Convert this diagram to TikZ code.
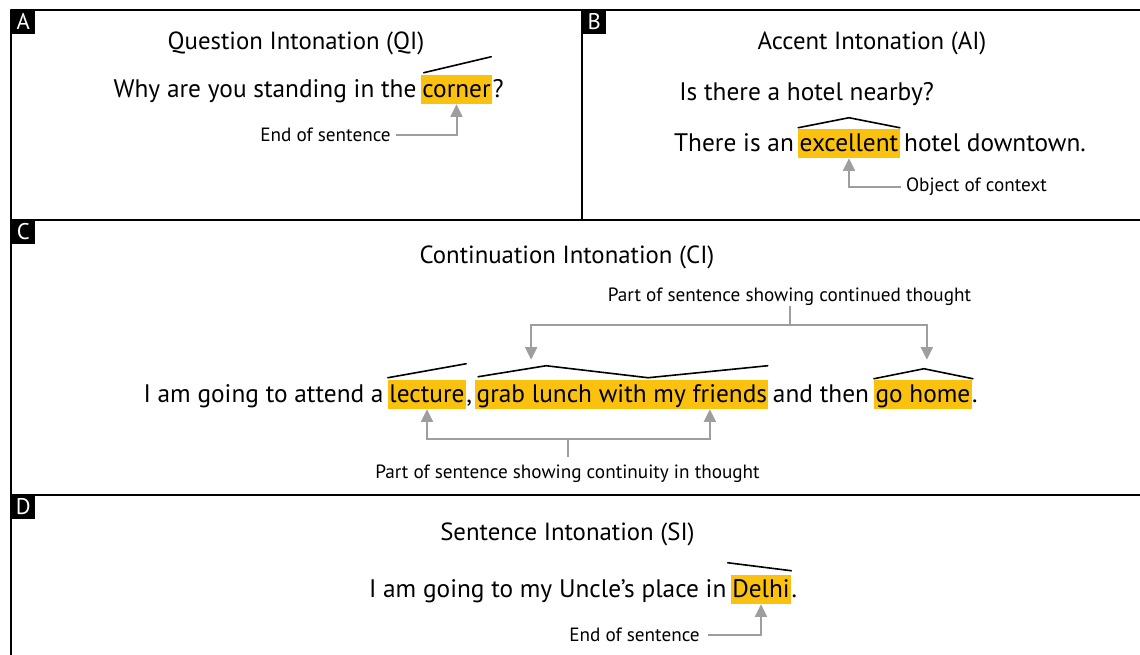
\documentclass[tikz,border=0pt]{standalone}
\usepackage{fontspec}
\setmainfont{PT Sans}
\usetikzlibrary{calc,arrows.meta,positioning}
\definecolor{hlgold}{RGB}{250,194,14}
\definecolor{ptrgray}{RGB}{158,158,160}

\begin{document}
\begin{tikzpicture}[x=0.75pt,y=-0.75pt,>=Stealth,line join=round,line cap=round,
    frame/.style={line width=1.5pt,line cap=rect},
    tag/.style={fill=black,text=white,inner sep=0pt,minimum width=18pt,minimum height=17.5pt,
      anchor=north west,font=\fontsize{17}{17}\selectfont},
    ttl/.style={font=\fontsize{18.6}{21}\selectfont,anchor=base,inner sep=0pt},
    sent/.style={font=\fontsize{19}{22}\selectfont,inner sep=0pt},
    hl/.style={sent,fill=hlgold,inner xsep=1pt,text height=16.5pt,text depth=5.25pt,anchor=base},
    note/.style={font=\fontsize{14.4}{16}\selectfont,inner sep=0pt},
    tone/.style={line width=1.2pt},
    gline/.style={ptrgray,line width=1.5pt,line cap=butt},
    ptr/.style={gline,line join=miter,-{Triangle[length=9.5pt,width=9pt]}}]
  \useasboundingbox (0,0) rectangle (1140,654);

  % panels
  \draw[frame] (11,654) -- (11,10) -- (1140,10);
  \draw[frame] (582,10) -- (582,220);
  \draw[frame] (11,220) -- (1140,220);
  \draw[frame] (11,495) -- (1140,495);
  \node[tag] (tagA) at (11,10) {A};
  \node[tag] (tagB) at (582,10) {B};
  \node[tag] (tagC) at (11,220) {C};
  \node[tag] (tagD) at (11,495) {D};

  % A
  \node[ttl] (ttlA) at (296,49) {Question Intonation (QI)};
  \node[hl] (corner) at (456.5,97) {corner};
  \node[sent,anchor=base east] (qL) at ([xshift=-3pt]corner.base west) {Why are you standing in the};
  \node[sent,anchor=base west] (qR) at (corner.base east) {?};
  \draw[tone] ([shift={(3,-2)}]corner.north west) -- ([shift={(-1,-18)}]corner.north east);
  \node[note] (endA) at (325.5,135) {End of sentence};
  \draw[ptr] ([xshift=4pt]endA.east) -| (corner.south);

  % B
  \node[ttl] (ttlB) at (872,49) {Accent Intonation (AI)};
  \node[sent,anchor=base west] (ask) at (679,100) {Is there a hotel nearby?};
  \node[hl] (excellent) at (849,151) {excellent};
  \node[sent,anchor=base east] (aL) at ([xshift=-3pt]excellent.base west) {There is an};
  \node[sent,anchor=base west] (aR) at ([xshift=3pt]excellent.base east) {hotel downtown.};
  \draw[tone] ([shift={(0,-1)}]excellent.north west) -- ([shift={(0,-11)}]excellent.north)
    -- ([shift={(0,-1)}]excellent.north east);
  \node[note] (objB) at (976.5,187) {Object of context};
  \draw[ptr] ([xshift=-4pt]objB.west) -| (excellent.south);

  % C
  \node[ttl] (ttlC) at (567,263) {Continuation Intonation (CI)};
  \node[hl] (lecture) at (427,402) {lecture};
  \node[sent,anchor=base east] (cL) at ([xshift=-3pt]lecture.base west) {I am going to attend a};
  \node[sent,anchor=base west] (comma) at (lecture.base east) {,};
  \node[hl,anchor=base west] (grab) at ([xshift=2pt]comma.base east) {grab lunch with my friends};
  \node[sent,anchor=base west] (andthen) at ([xshift=3pt]grab.base east) {and then};
  \node[hl,anchor=base west] (home) at ([xshift=3.5pt]andthen.base east) {go home};
  \node[sent,anchor=base west] (stop) at (home.base east) {.};
  \draw[tone] ([shift={(0,-2)}]lecture.north west) -- ([shift={(0,-16)}]lecture.north east);
  \draw[tone] ([shift={(3,-3)}]grab.north west) -- ([shift={(71,-14)}]grab.north west)
    -- ([shift={(173,-2)}]grab.north west) -- ([shift={(-1,-14)}]grab.north east);
  \draw[tone] ([shift={(0,-1)}]home.north west) -- ([shift={(1,-11)}]home.north)
    -- ([shift={(1,-1)}]home.north east);
  \node[note] (contU) at (789.5,297) {Part of sentence showing continued thought};
  \coordinate (jU) at (789.5,325);
  \draw[gline] (contU.south) -- (jU);
  \draw[ptr] (jU) -| ([shift={(56,-20)}]grab.north west);
  \draw[ptr] (jU) -| ([shift={(4,-20)}]home.north);
  \node[note] (contL) at (567.5,474) {Part of sentence showing continuity in thought};
  \coordinate (jL) at (567.5,439);
  \draw[gline] ([shift={(0,-8)}]contL.north) -- (jL);
  \draw[ptr] (jL) -| (lecture.south);
  \draw[ptr] (jL) -| ([xshift=66pt]grab.south);

  % D
  \node[ttl] (ttlD) at (567.5,540) {Sentence Intonation (SI)};
  \node[hl] (delhi) at (761,597) {Delhi};
  \node[sent,anchor=base east] (dL) at ([xshift=-3pt]delhi.base west) {I am going to my Uncle’s place in};
  \node[sent,anchor=base west] (dR) at (delhi.base east) {.};
  \draw[tone] ([shift={(-3,-12)}]delhi.north west) -- ([shift={(0,-4)}]delhi.north east);
  \node[note] (endD) at (634.5,635) {End of sentence};
  \draw[ptr] ([xshift=6pt]endD.east) -| (delhi.south);
\end{tikzpicture}
\end{document}
